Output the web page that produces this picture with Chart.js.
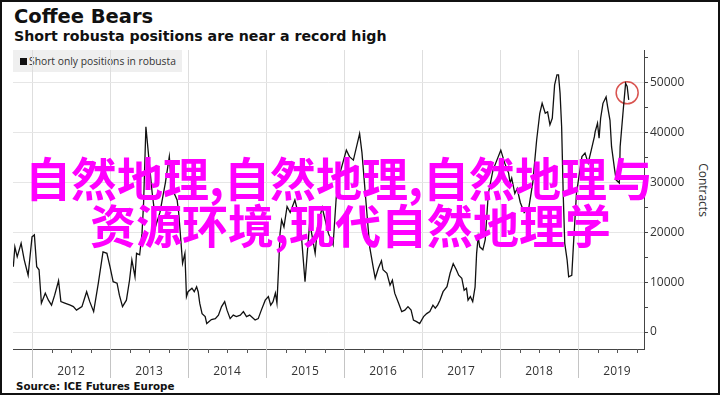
<!DOCTYPE html>
<html>
<head>
<meta charset="utf-8">
<script src="https://cdn.jsdelivr.net/npm/chart.js@4.4.1/dist/chart.umd.min.js"></script>
<style>
body { margin: 0; background: #fff; }
#frame { position: relative; width: 720px; height: 395px; overflow: hidden; background: #fff; font-family: "DejaVu Sans", sans-serif; }
#border { position: absolute; left: 0; top: 0; width: 720px; height: 395px; box-sizing: border-box; border: 2px solid #111; z-index: 5; pointer-events: none; }
#chart { position: absolute; left: 0; top: 0; z-index: 2; }
.title { position: absolute; left: 14px; top: 7px; font-size: 19.5px; font-weight: bold; line-height: 1; color: #111; }
.subtitle { position: absolute; left: 14px; top: 29px; font-size: 14.2px; font-weight: bold; line-height: 1; color: #111; }
.legend { position: absolute; left: 13px; top: 50px; width: 169px; height: 22px; background: #efefef; z-index: 1; display: flex; align-items: center; font-family: "Open Sans", sans-serif; font-size: 10.3px; color: #333; }
.legend i { display: inline-block; width: 7px; height: 7px; background: #111; margin: 0 2px 0 7px; }
.source { position: absolute; left: 16px; top: 381px; font-size: 10.3px; font-weight: bold; line-height: 1; color: #111; }
.ytitle { position: absolute; left: 703px; top: 190px; transform: translate(-50%, -50%) rotate(90deg); font-family: "Open Sans", sans-serif; font-size: 12px; color: #333; white-space: nowrap; }
.overlay { position: absolute; z-index: 4; font-family: "Noto Sans CJK SC", sans-serif; font-weight: bold; font-size: 46px; line-height: 1; color: #ff00ff; white-space: nowrap; }
</style>
</head>
<body>
<div id="frame">
  <div class="title">Coffee Bears</div>
  <div class="subtitle">Short robusta positions are near a record high</div>
  <div class="legend"><i></i>Short only positions in robusta</div>
  <canvas id="chart" width="720" height="395"></canvas>
  <div class="ytitle">Contracts</div>
  <div class="source">Source: ICE Futures Europe</div>
  <div class="overlay" style="left:25px;top:153px;">自然地理,自然地理,自然地理与</div>
  <div class="overlay" style="left:90px;top:200px;">资源环境,现代自然地理学</div>
  <div id="border"></div>
</div>
<script>
// weekly-ish readings, date as decimal year
var dates = [
  2011.76, 2011.78, 2011.81, 2011.86, 2011.90, 2011.95,
  2012.00, 2012.03, 2012.06, 2012.09, 2012.12, 2012.17, 2012.21, 2012.25, 2012.29, 2012.34, 2012.37, 2012.42,
  2012.49, 2012.53, 2012.57, 2012.64, 2012.70, 2012.74, 2012.79, 2012.85, 2012.91, 2012.96,
  2013.00, 2013.04, 2013.09, 2013.12, 2013.16, 2013.21, 2013.25, 2013.28, 2013.32, 2013.34, 2013.38, 2013.41,
  2013.43, 2013.46, 2013.50, 2013.54, 2013.59, 2013.64, 2013.71, 2013.76, 2013.79, 2013.86, 2013.88, 2013.91,
  2013.93, 2013.96, 2013.98,
  2014.00, 2014.05, 2014.08, 2014.11, 2014.13, 2014.15, 2014.18, 2014.22, 2014.24, 2014.30, 2014.35, 2014.39,
  2014.43, 2014.47, 2014.50, 2014.54, 2014.58, 2014.62, 2014.67, 2014.71, 2014.75, 2014.79, 2014.86, 2014.90,
  2014.94, 2014.99,
  2015.03, 2015.06, 2015.09, 2015.12, 2015.14, 2015.16, 2015.18, 2015.20, 2015.23, 2015.27, 2015.31, 2015.37,
  2015.44, 2015.50, 2015.56, 2015.63, 2015.66, 2015.72, 2015.80, 2015.86, 2015.90, 2015.95,
  2016.03, 2016.07, 2016.12, 2016.20, 2016.23, 2016.29, 2016.33, 2016.38, 2016.40, 2016.44, 2016.48, 2016.50,
  2016.55, 2016.59, 2016.62, 2016.65, 2016.70, 2016.74, 2016.78, 2016.82, 2016.86, 2016.89, 2016.93, 2016.97,
  2017.02, 2017.06, 2017.10, 2017.14, 2017.17, 2017.20, 2017.23, 2017.27, 2017.32, 2017.36, 2017.40, 2017.44,
  2017.47, 2017.51, 2017.54, 2017.57, 2017.59, 2017.62, 2017.65, 2017.68, 2017.70, 2017.72, 2017.74, 2017.78,
  2017.81, 2017.85, 2017.91, 2017.96,
  2018.01, 2018.06, 2018.11, 2018.13, 2018.15, 2018.19, 2018.22, 2018.26, 2018.31, 2018.37, 2018.42, 2018.47,
  2018.51, 2018.54, 2018.58, 2018.61, 2018.64, 2018.67, 2018.70, 2018.73, 2018.75, 2018.77, 2018.79, 2018.81,
  2018.83, 2018.86, 2018.88, 2018.92, 2018.94, 2018.98,
  2019.05, 2019.09, 2019.13, 2019.17, 2019.21, 2019.22, 2019.25, 2019.27, 2019.29, 2019.32, 2019.36, 2019.38,
  2019.41, 2019.43, 2019.47, 2019.49, 2019.53, 2019.54, 2019.58, 2019.61, 2019.63, 2019.65
];
var shorts = [
  13100, 17100, 15100, 17800, 14500, 11400,
  19100, 19500, 13100, 12500, 5800, 7800, 6400, 5400, 7400, 10300, 6100, 5800,
  5400, 5100, 4400, 5100, 8100, 6100, 4100, 9800, 16100, 15800,
  13100, 10100, 9800, 7400, 5100, 6400, 10400, 14500, 11100, 15800, 15500, 19800,
  25800, 41200, 34500, 28000, 21500, 24000, 30000, 35200, 29000, 26500, 24000, 18000,
  13800, 15800, 7100,
  8100, 8800, 8100, 9100, 8100, 5800, 3700, 3100, 1700, 2500, 2700, 3400,
  5100, 6100, 4400, 2700, 3400, 3100, 3400, 4100, 3100, 3400, 2400, 2700,
  4400, 6400,
  7100, 5400, 6100, 7800, 5800, 12500, 19800, 22500, 21100, 25200, 24000, 26500,
  22000, 10100, 22000, 15800, 21000, 25000, 19800, 17500, 27000, 32000,
  36500, 35200, 34500, 39800, 36000, 24500, 17000, 12500, 10800, 12800, 14300, 12500,
  11800, 9400, 10400, 7800, 5800, 4100, 4400, 5100, 4400, 2400, 2100, 1700,
  3100, 3700, 4100, 5400, 4800, 5400, 6400, 8100, 9100, 11800, 13700, 12500,
  11400, 10800, 8400, 8800, 6400, 7100, 6100, 9000, 15800, 19100, 17100, 16500,
  18500, 27800, 32500, 34500,
  36500, 33900, 31900, 29900, 30900, 27800, 28800, 26000, 24000, 25000, 30000, 38600,
  43900, 45900, 43900, 44200, 41600, 42900, 49600, 51600, 51600, 47900, 41200, 27800,
  17800, 14500, 11100, 11400, 17100, 27800,
  35200, 35900, 33900, 36500, 39200, 40200, 41900, 38900, 42900, 45900, 47200, 45200,
  42500, 37200, 32500, 30500, 29900, 37200, 44600, 49900, 49300, 46600
];
// circled recent high
var highlightDate = [2019.63];
var highlightValue = [48000];

var yearLabels = ["2012", "2013", "2014", "2015", "2016", "2017", "2018", "2019"];
var yTickValues = [0, 5000, 10000, 15000, 20000, 25000, 30000, 35000, 40000, 45000, 50000, 55000];
var xMin = 2011.756, xMax = 2019.846;

var quarterTicks = [];
for (let y of yearLabels) {
    for (let q of [0, 0.25, 0.5, 0.75]) {
        let v = Number(y) + q;
        if (v >= xMin && v <= xMax) quarterTicks.push(v);
    }
}

// year lines run down through the labels, quarters get short marks
var axisMarks = {
    id: "axisMarks",
    afterDraw: function (chart) {
        var xs = chart.scales.x;
        var ctx = chart.ctx;
        var base = chart.chartArea.bottom;
        ctx.save();
        ctx.lineWidth = 1;
        for (let t of xs.ticks) {
            let px = Math.round(xs.getPixelForValue(t.value)) + 0.5;
            let isYear = Number.isInteger(t.value);
            ctx.strokeStyle = isYear ? "#c4c4c4" : "#555";
            ctx.beginPath();
            ctx.moveTo(px, base);
            ctx.lineTo(px, base + (isYear ? 29 : 4));
            ctx.stroke();
        }
        ctx.restore();
    }
};

var lineData = dates.map((d, i) => ({ x: d, y: shorts[i] }));
var markData = highlightDate.map((d, i) => ({ x: d, y: highlightValue[i] }));

new Chart(document.getElementById("chart"), {
    type: "line",
    data: {
        datasets: [{
            label: "Short only positions in robusta",
            data: lineData,
            borderColor: "#111",
            borderWidth: 1.3,
            pointRadius: 0,
            tension: 0
        }, {
            label: "high",
            data: markData,
            showLine: false,
            pointRadius: 11,
            pointBorderWidth: 1.5,
            pointBorderColor: "#d9534f",
            pointBackgroundColor: "rgba(0,0,0,0)"
        }]
    },
    options: {
        responsive: false,
        animation: false,
        layout: { padding: { left: 13, top: 50, right: 0, bottom: 0 } },
        plugins: { legend: { display: false }, tooltip: { enabled: false } },
        scales: {
            x: {
                type: "linear",
                min: xMin,
                max: xMax,
                afterBuildTicks: function (s) { s.ticks = quarterTicks.map(v => ({ value: v })); },
                afterFit: function (s) { s.height = 46; },
                grid: {
                    color: c => (c.tick && Number.isInteger(c.tick.value)) ? "#dedede" : "rgba(0,0,0,0)",
                    drawTicks: false
                },
                border: { color: "#444" },
                ticks: {
                    autoSkip: false,
                    maxRotation: 0,
                    padding: 15,
                    color: "#333",
                    font: { family: "Open Sans", size: 12 },
                    callback: v => (v % 1 === 0.5) ? String(Math.floor(v)) : ""
                }
            },
            y: {
                position: "right",
                min: -3400,
                max: 56600,
                afterBuildTicks: function (s) { s.ticks = yTickValues.map(v => ({ value: v })); },
                afterFit: function (s) { s.width = 76; },
                grid: {
                    color: c => (c.tick && c.tick.value % 10000 === 0) ? "#e6e6e6" : "rgba(0,0,0,0)",
                    tickColor: "#444",
                    tickLength: 4
                },
                border: { color: "#444" },
                ticks: {
                    padding: 2,
                    color: "#333",
                    font: { family: "Open Sans", size: 12 },
                    callback: v => (v % 10000 === 0) ? String(v) : ""
                }
            }
        }
    },
    plugins: [axisMarks]
});
</script>
</body>
</html>
